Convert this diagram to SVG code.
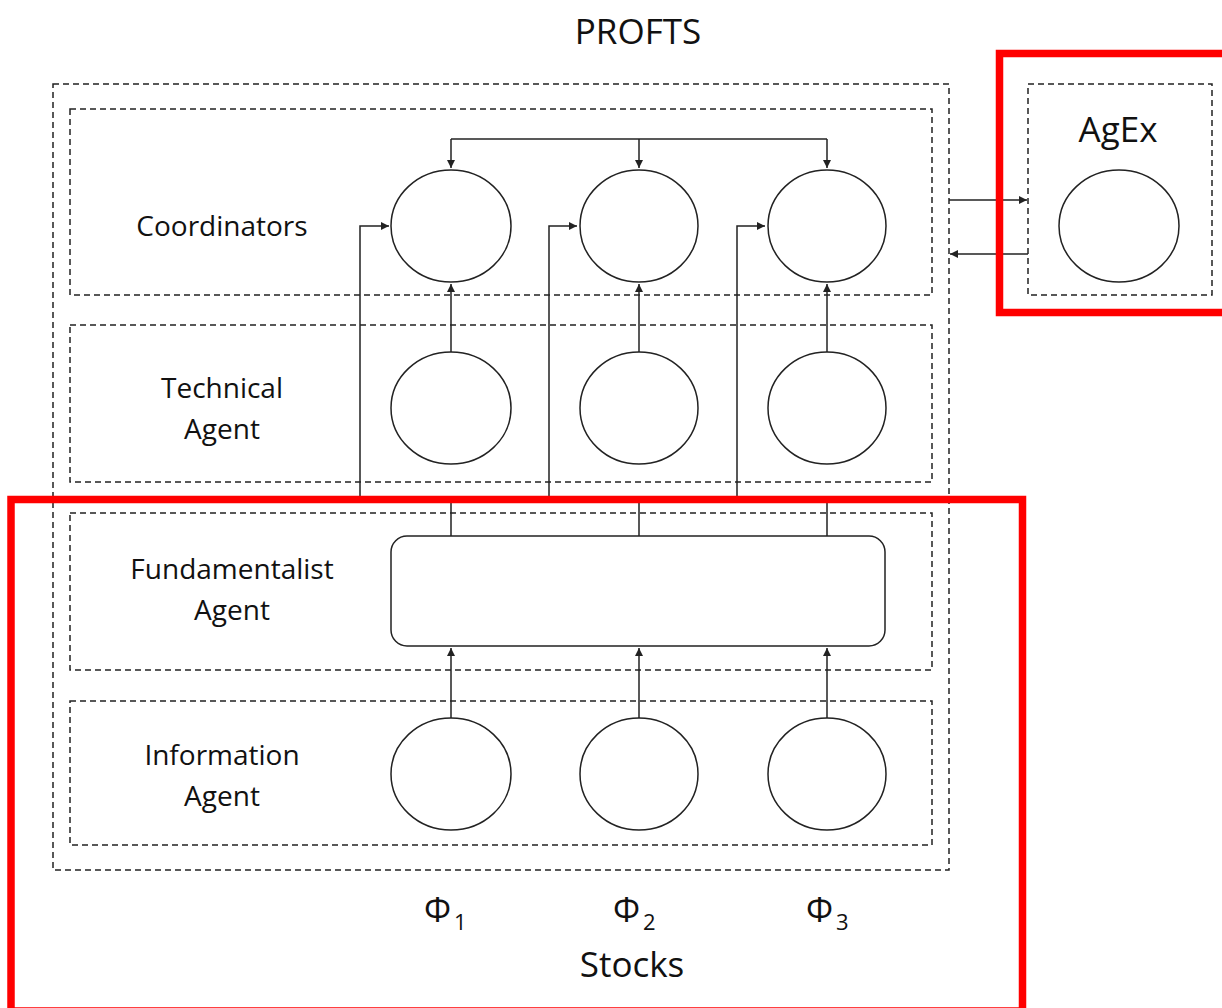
<svg xmlns="http://www.w3.org/2000/svg" width="1222" height="1008" viewBox="0 0 1222 1008">
<defs>
<style>
.dash{fill:none;stroke:#222;stroke-width:1.5;stroke-dasharray:6 4}
.node{fill:#fff;stroke:#222;stroke-width:1.5}
.line{fill:none;stroke:#222;stroke-width:1.5}
.red{fill:none;stroke:#f00;stroke-width:7.5}
text{font-family:"Open Sans","Liberation Sans",sans-serif;fill:#111}
.lbl{font-size:28px;text-anchor:middle}
.big{font-size:35px;text-anchor:middle}
</style>
<marker id="ah" viewBox="0 0 10 10" refX="10" refY="5" markerWidth="8" markerHeight="8" markerUnits="userSpaceOnUse" orient="auto"><path d="M0,0 L10,5 L0,10 z" fill="#222"/></marker>
</defs>
<rect width="1222" height="1008" fill="#fff"/>
<text class="big" x="638" y="44" font-size="41">PROFTS</text>
<g id="profts-frame"><rect class="dash" x="53" y="84" width="896" height="786"/></g>
<g id="coordinators-layer"><rect class="dash" x="70" y="109" width="862" height="186"/><text class="lbl" x="222" y="236">Coordinators</text></g>
<g id="technical-layer"><rect class="dash" x="70" y="325" width="862" height="157"/><text class="lbl" x="222" y="398">Technical</text><text class="lbl" x="222" y="439">Agent</text></g>
<g id="fundamentalist-layer"><rect class="dash" x="70" y="513" width="862" height="157"/><text class="lbl" x="232" y="579">Fundamentalist</text><text class="lbl" x="232" y="620">Agent</text></g>
<g id="information-layer"><rect class="dash" x="70" y="701" width="862" height="144"/><text class="lbl" x="222" y="765">Information</text><text class="lbl" x="222" y="806">Agent</text></g>
<g id="agex-box"><rect class="dash" x="1028" y="84" width="184" height="211"/><text class="big" x="1118" y="142">AgEx</text></g>
<g id="connectors">
<path class="line" d="M451,139 H827" />
<path class="line" d="M639,139 V168" marker-end="url(#ah)"/>
<path class="line" d="M451,139 V168" marker-end="url(#ah)"/>
<path class="line" d="M827,139 V168" marker-end="url(#ah)"/>
<path class="line" d="M451,352 V284" marker-end="url(#ah)"/>
<path class="line" d="M639,352 V284" marker-end="url(#ah)"/>
<path class="line" d="M827,352 V284" marker-end="url(#ah)"/>
<path class="line" d="M451,536 V499 H360 V226 H389" marker-end="url(#ah)"/>
<path class="line" d="M639,536 V499 H549 V226 H577" marker-end="url(#ah)"/>
<path class="line" d="M827,536 V499 H737 V226 H765" marker-end="url(#ah)"/>
<path class="line" d="M451,718 V648" marker-end="url(#ah)"/>
<path class="line" d="M639,718 V648" marker-end="url(#ah)"/>
<path class="line" d="M827,718 V648" marker-end="url(#ah)"/>
<path class="line" d="M949,200 H1027" marker-end="url(#ah)"/>
<path class="line" d="M1028,254 H950" marker-end="url(#ah)"/>
</g>
<g id="coord-1"><ellipse class="node" cx="451" cy="226" rx="60" ry="56"/></g>
<g id="coord-2"><ellipse class="node" cx="639" cy="226" rx="59" ry="56"/></g>
<g id="coord-3"><ellipse class="node" cx="827" cy="226" rx="59" ry="56"/></g>
<g id="tech-1"><ellipse class="node" cx="451" cy="408" rx="60" ry="56"/></g>
<g id="tech-2"><ellipse class="node" cx="639" cy="408" rx="59" ry="56"/></g>
<g id="tech-3"><ellipse class="node" cx="827" cy="408" rx="59" ry="56"/></g>
<g id="fundamentalist"><rect class="node" x="391" y="536" width="494" height="110" rx="16"/></g>
<g id="info-1"><ellipse class="node" cx="451" cy="774" rx="60" ry="56"/></g>
<g id="info-2"><ellipse class="node" cx="639" cy="774" rx="59" ry="56"/></g>
<g id="info-3"><ellipse class="node" cx="827" cy="774" rx="59" ry="56"/></g>
<g id="agex"><ellipse class="node" cx="1119" cy="226" rx="60" ry="56"/></g>
<g id="stocks">
<text x="424" y="922" font-size="34">Φ<tspan font-size="22" dx="3" dy="8">1</tspan></text>
<text x="613" y="922" font-size="34">Φ<tspan font-size="22" dx="3" dy="8">2</tspan></text>
<text x="806" y="922" font-size="34">Φ<tspan font-size="22" dx="3" dy="8">3</tspan></text>
<text class="big" x="632" y="977">Stocks</text>
</g>
<g id="highlights">
<rect class="red" x="999.5" y="53.5" width="240" height="259"/>
<rect class="red" x="11" y="499.5" width="1011.5" height="511.5"/>
</g>
</svg>
